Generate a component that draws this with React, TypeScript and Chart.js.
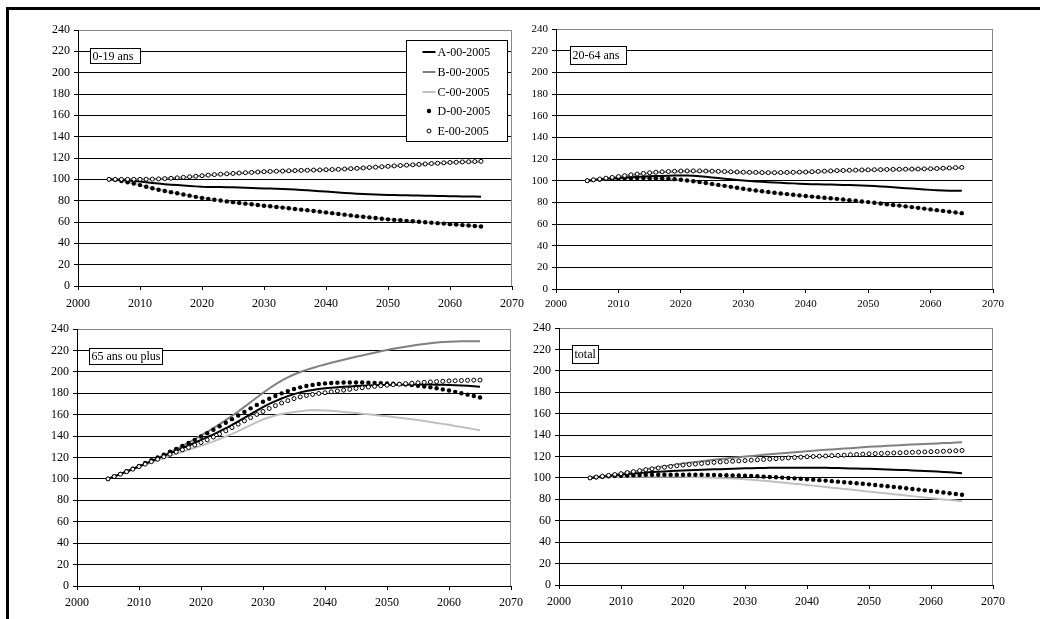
import React, { useEffect, useRef } from "react";
import { Chart, registerables } from "chart.js";

Chart.register(...registerables);

// ---------- data ----------
const YEARS = [
  2005, 2006, 2007, 2008, 2009, 2010, 2011, 2012, 2013, 2014, 2015, 2016, 2017, 2018, 2019, 2020,
  2021, 2022, 2023, 2024, 2025, 2026, 2027, 2028, 2029, 2030, 2031, 2032, 2033, 2034, 2035, 2036,
  2037, 2038, 2039, 2040, 2041, 2042, 2043, 2044, 2045, 2046, 2047, 2048, 2049, 2050, 2051, 2052,
  2053, 2054, 2055, 2056, 2057, 2058, 2059, 2060, 2061, 2062, 2063, 2064, 2065,
];
const X_TICKS = [2000, 2010, 2020, 2030, 2040, 2050, 2060, 2070];
const Y_TICKS = [0, 20, 40, 60, 80, 100, 120, 140, 160, 180, 200, 220, 240];
const SERIES_NAMES = ["A-00-2005", "B-00-2005", "C-00-2005", "D-00-2005", "E-00-2005"];
const PANEL_TITLES = ["0-19 ans", "20-64 ans", "65 ans ou plus", "total"];

// 0-19 ans
const A_YOUNG = [
  100, 99.7, 99.3, 98.9, 98.5, 98.0, 97.3, 96.6, 96.0, 95.5, 95.0, 94.6, 94.2, 93.8, 93.4, 93.0,
  92.9, 92.8, 92.7, 92.6, 92.5, 92.3, 92.1, 91.9, 91.7, 91.5, 91.3, 91.1, 90.9, 90.7, 90.5, 90.1,
  89.7, 89.3, 88.9, 88.5, 88.1, 87.7, 87.3, 86.9, 86.5, 86.2, 86.0, 85.8, 85.5, 85.3, 85.2, 85.1,
  85.0, 84.9, 84.8, 84.7, 84.6, 84.4, 84.3, 84.2, 84.1, 84.0, 83.9, 83.8, 83.7,
];
const D_YOUNG = [
  100, 99.5, 98.5, 97.3, 96.0, 94.6, 93.0, 91.6, 90.3, 89.1, 88.0, 86.9, 85.8, 84.7, 83.6, 82.6,
  81.7, 80.9, 80.1, 79.3, 78.6, 77.9, 77.2, 76.6, 75.9, 75.3, 74.7, 74.1, 73.5, 72.9, 72.2, 71.6,
  71.0, 70.3, 69.7, 69.0, 68.3, 67.6, 66.9, 66.2, 65.5, 64.9, 64.3, 63.7, 63.1, 62.5, 62.0, 61.6,
  61.1, 60.7, 60.3, 59.8, 59.4, 58.9, 58.5, 58.0, 57.6, 57.1, 56.7, 56.2, 55.8,
];
const E_YOUNG = [
  100, 100, 100, 100, 100, 100, 100.1, 100.2, 100.4, 100.7, 101.0, 101.4, 101.9, 102.4, 102.9, 103.4,
  103.9, 104.4, 104.8, 105.2, 105.5, 105.9, 106.2, 106.5, 106.9, 107.2, 107.4, 107.6, 107.8, 108.0, 108.2, 108.4,
  108.5, 108.7, 108.8, 109.0, 109.2, 109.4, 109.7, 110.0, 110.3, 110.7, 111.1, 111.4, 111.8, 112.2, 112.6, 112.9,
  113.3, 113.6, 114.0, 114.4, 114.8, 115.1, 115.5, 115.8, 116.0, 116.3, 116.5, 116.7, 116.9,
];
const B_YOUNG = [
  100, 100, 100, 100, 100, 100, 100.1, 100.2, 100.4, 100.7, 101.0, 101.4, 101.8, 102.3, 102.8, 103.3,
  103.8, 104.3, 104.7, 105.1, 105.4, 105.8, 106.1, 106.4, 106.8, 107.1, 107.3, 107.5, 107.7, 107.9, 108.1, 108.3,
  108.4, 108.6, 108.7, 108.9, 109.1, 109.3, 109.6, 109.9, 110.2, 110.6, 111.0, 111.3, 111.7, 112.1, 112.5, 112.8,
  113.2, 113.5, 113.9, 114.3, 114.7, 115.0, 115.4, 115.7, 115.9, 116.2, 116.4, 116.6, 116.8,
];
const C_YOUNG = [
  100, 99.5, 98.5, 97.3, 96.0, 94.6, 93.0, 91.6, 90.3, 89.1, 88.0, 86.9, 85.8, 84.7, 83.6, 82.6,
  81.7, 80.9, 80.1, 79.3, 78.6, 77.9, 77.2, 76.6, 75.9, 75.3, 74.7, 74.1, 73.5, 72.9, 72.2, 71.6,
  71.0, 70.3, 69.7, 69.0, 68.3, 67.6, 66.9, 66.2, 65.5, 64.9, 64.3, 63.7, 63.1, 62.5, 62.0, 61.6,
  61.1, 60.7, 60.3, 59.8, 59.4, 58.9, 58.5, 58.0, 57.6, 57.1, 56.7, 56.2, 55.8,
];

// 20-64 ans
const A_ADULT = [
  100, 100.6, 101.2, 101.7, 102.1, 102.5, 102.9, 103.2, 103.5, 103.8, 104.0, 104.2, 104.4, 104.6, 104.7, 104.8,
  104.7, 104.5, 104.1, 103.6, 103.0, 102.4, 101.8, 101.2, 100.7, 100.2, 99.7, 99.3, 98.9, 98.6, 98.3, 98.0,
  97.7, 97.5, 97.2, 97.0, 96.8, 96.7, 96.5, 96.4, 96.2, 96.1, 95.9, 95.8, 95.6, 95.4, 95.1, 94.7,
  94.3, 93.9, 93.5, 93.1, 92.7, 92.3, 91.9, 91.5, 91.2, 91.0, 90.8, 90.7, 90.7,
];
const D_ADULT = [
  100, 100.6, 101.1, 101.5, 101.8, 102.0, 102.2, 102.3, 102.4, 102.4, 102.3, 102.2, 102.0, 101.8, 101.4, 100.8,
  100.2, 99.5, 98.8, 97.9, 97.0, 96.1, 95.2, 94.3, 93.4, 92.5, 91.7, 90.9, 90.2, 89.5, 88.8, 88.2,
  87.6, 87.0, 86.4, 85.8, 85.3, 84.8, 84.3, 83.8, 83.2, 82.6, 82.0, 81.4, 80.8, 80.2, 79.6, 78.9,
  78.3, 77.6, 77.0, 76.3, 75.6, 74.9, 74.2, 73.5, 72.8, 72.1, 71.4, 70.7, 70.0,
];
const E_ADULT = [
  100, 100.8, 101.5, 102.3, 103.0, 103.8, 104.6, 105.4, 106.1, 106.7, 107.3, 107.8, 108.2, 108.5, 108.7, 108.9,
  109.0, 109.0, 109.0, 108.9, 108.8, 108.6, 108.4, 108.2, 108.0, 107.8, 107.7, 107.6, 107.5, 107.4, 107.4, 107.5,
  107.6, 107.7, 107.9, 108.0, 108.3, 108.5, 108.8, 109.0, 109.3, 109.4, 109.6, 109.7, 109.9, 110.0, 110.1, 110.2,
  110.3, 110.4, 110.5, 110.6, 110.7, 110.8, 110.9, 111.0, 111.2, 111.5, 111.7, 112.0, 112.2,
];
const B_ADULT = [
  100, 100.7, 101.4, 102.1, 102.8, 103.6, 104.4, 105.2, 105.9, 106.5, 107.1, 107.6, 108.0, 108.3, 108.5, 108.7,
  108.8, 108.8, 108.8, 108.7, 108.6, 108.4, 108.2, 108.0, 107.8, 107.6, 107.5, 107.4, 107.3, 107.2, 107.2, 107.3,
  107.4, 107.5, 107.7, 107.8, 108.1, 108.3, 108.6, 108.8, 109.1, 109.2, 109.4, 109.5, 109.7, 109.8, 109.9, 110.0,
  110.1, 110.2, 110.3, 110.4, 110.5, 110.6, 110.7, 110.8, 111.0, 111.3, 111.5, 111.8, 112.0,
];
const C_ADULT = [
  100, 100.5, 101.0, 101.4, 101.7, 101.9, 102.1, 102.2, 102.3, 102.3, 102.2, 102.1, 101.9, 101.6, 101.2, 100.6,
  100.0, 99.3, 98.6, 97.7, 96.8, 95.9, 95.0, 94.1, 93.2, 92.3, 91.5, 90.7, 90.0, 89.3, 88.6, 88.0,
  87.4, 86.8, 86.2, 85.6, 85.1, 84.6, 84.1, 83.6, 83.0, 82.4, 81.8, 81.2, 80.6, 80.0, 79.4, 78.7,
  78.1, 77.4, 76.8, 76.1, 75.4, 74.7, 74.0, 73.3, 72.6, 71.9, 71.2, 70.5, 69.8,
];

// 65 ans ou plus
const A_OLD = [
  100, 102.3, 104.6, 106.9, 109.3, 111.7, 114.1, 116.5, 118.9, 121.4, 123.9, 126.3, 128.7, 131.2, 133.8, 136.4,
  139.0, 141.6, 144.4, 147.3, 150.4, 153.7, 157.1, 160.5, 163.8, 167.0, 170.0, 172.7, 175.1, 177.3, 179.2, 180.8,
  182.1, 183.1, 183.9, 184.6, 185.1, 185.6, 186.0, 186.4, 186.7, 187.0, 187.2, 187.4, 187.6, 187.8, 187.9, 188.0,
  188.1, 188.2, 188.2, 188.2, 188.1, 188.0, 187.9, 187.8, 187.5, 187.2, 186.9, 186.5, 186.0,
];
const B_OLD = [
  100, 102.3, 104.6, 106.9, 109.3, 111.8, 114.3, 116.8, 119.4, 122.1, 124.9, 127.8, 130.8, 133.9, 137.2, 140.6,
  144.0, 147.5, 151.1, 154.9, 158.8, 163.0, 167.3, 171.6, 176.0, 180.3, 184.4, 188.2, 191.7, 194.8, 197.5, 199.8,
  201.8, 203.6, 205.3, 206.9, 208.4, 209.9, 211.3, 212.7, 214.0, 215.3, 216.6, 217.9, 219.2, 220.4, 221.5, 222.5,
  223.5, 224.4, 225.3, 226.1, 226.8, 227.4, 227.9, 228.2, 228.4, 228.5, 228.5, 228.5, 228.5,
];
const C_OLD = [
  100, 102.2, 104.4, 106.6, 108.8, 111.0, 113.1, 115.2, 117.3, 119.4, 121.5, 123.4, 125.3, 127.2, 129.1, 131.0,
  133.0, 135.1, 137.3, 139.6, 142.0, 144.7, 147.5, 150.3, 153.0, 155.5, 157.6, 159.3, 160.6, 161.6, 162.5, 163.2,
  163.8, 164.3, 164.2, 164.0, 163.6, 163.1, 162.6, 162.1, 161.5, 160.9, 160.3, 159.7, 159.1, 158.5, 157.8, 157.1,
  156.4, 155.7, 155.0, 154.1, 153.2, 152.3, 151.4, 150.5, 149.5, 148.5, 147.5, 146.5, 145.5,
];
const D_OLD = [
  100, 102.3, 104.7, 107.1, 109.6, 112.2, 114.8, 117.4, 120.0, 122.7, 125.4, 128.0, 130.7, 133.5, 136.5, 139.6,
  142.7, 145.9, 149.2, 152.5, 155.8, 159.2, 162.6, 165.9, 169.1, 172.1, 174.9, 177.5, 179.9, 182.0, 183.9, 185.5,
  186.8, 187.8, 188.6, 189.2, 189.6, 189.9, 190.0, 190.1, 190.1, 190.0, 189.9, 189.7, 189.5, 189.2, 188.9, 188.5,
  188.1, 187.6, 187.0, 186.3, 185.5, 184.6, 183.6, 182.5, 181.3, 180.0, 178.7, 177.4, 176.0,
];
const E_OLD = [
  100, 102.2, 104.4, 106.7, 109.1, 111.5, 113.8, 116.1, 118.4, 120.7, 123.0, 125.1, 127.2, 129.3, 131.6, 134.0,
  136.5, 139.1, 141.9, 144.9, 148.0, 151.1, 154.2, 157.2, 160.2, 163.0, 165.8, 168.4, 170.9, 173.1, 175.0, 176.6,
  177.9, 178.9, 179.8, 180.5, 181.3, 182.1, 182.9, 183.7, 184.5, 185.2, 185.8, 186.4, 187.0, 187.5, 188.0, 188.5,
  189.0, 189.4, 189.8, 190.2, 190.6, 190.9, 191.2, 191.5, 191.7, 191.9, 192.1, 192.2, 192.3,
];

// total
const A_TOTAL = [
  100, 100.7, 101.3, 101.9, 102.5, 103.0, 103.6, 104.1, 104.6, 105.1, 105.5, 105.8, 106.1, 106.4, 106.7, 107.0,
  107.2, 107.4, 107.6, 107.8, 108.0, 108.2, 108.4, 108.6, 108.8, 109.0, 109.1, 109.2, 109.3, 109.4, 109.5, 109.5,
  109.6, 109.6, 109.6, 109.6, 109.5, 109.5, 109.4, 109.3, 109.2, 109.1, 108.9, 108.8, 108.6, 108.5, 108.3, 108.1,
  107.9, 107.7, 107.5, 107.3, 107.0, 106.8, 106.5, 106.2, 105.9, 105.5, 105.2, 104.8, 104.4,
];
const B_TOTAL = [
  100, 100.8, 101.6, 102.4, 103.2, 104.0, 105.0, 106.0, 107.0, 108.0, 109.0, 109.9, 110.8, 111.7, 112.6, 113.5,
  114.2, 114.9, 115.6, 116.3, 117.0, 117.6, 118.2, 118.8, 119.4, 120.0, 120.5, 121.0, 121.6, 122.1, 122.6, 123.1,
  123.6, 124.0, 124.5, 125.0, 125.4, 125.8, 126.2, 126.6, 127.0, 127.4, 127.8, 128.2, 128.6, 129.0, 129.3, 129.6,
  130.0, 130.3, 130.6, 130.9, 131.2, 131.4, 131.7, 132.0, 132.2, 132.5, 132.7, 133.0, 133.2,
];
const C_TOTAL = [
  100, 100.3, 100.5, 100.7, 100.9, 101.0, 101.1, 101.2, 101.2, 101.2, 101.2, 101.2, 101.2, 101.1, 101.1, 101.0,
  100.9, 100.8, 100.6, 100.4, 100.2, 100.0, 99.7, 99.5, 99.2, 98.8, 98.3, 97.8, 97.3, 96.8, 96.3, 95.7,
  95.1, 94.6, 94.0, 93.4, 92.8, 92.2, 91.5, 90.9, 90.3, 89.7, 89.1, 88.4, 87.8, 87.2, 86.6, 86.0,
  85.4, 84.8, 84.2, 83.6, 83.0, 82.3, 81.7, 81.1, 80.5, 79.9, 79.4, 78.8, 78.2,
];
const D_TOTAL = [
  100, 100.6, 101.1, 101.5, 101.8, 102.0, 102.3, 102.5, 102.7, 102.9, 103.0, 103.0, 103.0, 103.0, 103.0, 103.0,
  103.0, 102.9, 102.9, 102.8, 102.7, 102.6, 102.5, 102.4, 102.2, 102.0, 101.8, 101.5, 101.2, 100.9, 100.6, 100.3,
  99.9, 99.6, 99.2, 98.8, 98.4, 97.9, 97.5, 97.0, 96.5, 96.0, 95.5, 95.0, 94.5, 94.0, 93.4, 92.8,
  92.2, 91.6, 91.0, 90.4, 89.7, 89.1, 88.4, 87.8, 87.1, 86.4, 85.7, 85.0, 84.3,
];
const E_TOTAL = [
  100, 100.8, 101.6, 102.4, 103.2, 104.0, 105.0, 105.9, 106.8, 107.7, 108.5, 109.3, 110.0, 110.7, 111.4, 112.0,
  112.5, 113.0, 113.5, 114.0, 114.5, 114.9, 115.2, 115.6, 115.9, 116.2, 116.6, 116.9, 117.3, 117.6, 118.0, 118.4,
  118.7, 119.1, 119.4, 119.8, 120.0, 120.3, 120.5, 120.8, 121.0, 121.3, 121.6, 121.9, 122.2, 122.5, 122.7, 122.9,
  123.1, 123.3, 123.5, 123.7, 123.9, 124.1, 124.3, 124.5, 124.7, 124.9, 125.1, 125.4, 125.6,
];

const PANEL_SERIES = [
  [A_YOUNG, B_YOUNG, C_YOUNG, D_YOUNG, E_YOUNG],
  [A_ADULT, B_ADULT, C_ADULT, D_ADULT, E_ADULT],
  [A_OLD, B_OLD, C_OLD, D_OLD, E_OLD],
  [A_TOTAL, B_TOTAL, C_TOTAL, D_TOTAL, E_TOTAL],
];

// ---------- layout / style ----------
const FONT = '"Liberation Serif", "Times New Roman", serif';
const LAYOUT = [
  { l: 78, r: 512, t: 30, b: 286, fs: 12, xpad: 7, box: { dx: 12, dy: 18, w: 50, h: 15 }, legend: true },
  { l: 556, r: 993, t: 29, b: 289, fs: 11, xpad: 5, box: { dx: 14, dy: 17, w: 56, h: 18 }, legend: false },
  { l: 77, r: 511, t: 329, b: 586, fs: 12, xpad: 6, box: { dx: 12, dy: 19, w: 73, h: 16 }, legend: false },
  { l: 559, r: 993, t: 328, b: 585, fs: 12, xpad: 6, box: { dx: 13, dy: 17, w: 26, h: 18 }, legend: false },
];
const PAD_L = 60;
const PAD_T = 20;
const PAD_R = 20;
const PAD_B = 28;

const STYLES = [
  { kind: "line", color: "#000000", width: 2, order: 2 },
  { kind: "line", color: "#808080", width: 2, order: 3 },
  { kind: "line", color: "#c0c0c0", width: 2, order: 4 },
  { kind: "dot", color: "#000000", order: 1 },
  { kind: "ring", color: "#000000", order: 0 },
];

function makeDecor(title: string, lay: any) {
  return {
    id: "decor",
    beforeDatasetsDraw(chart: any) {
      const { ctx, chartArea: a } = chart;
      ctx.save();
      ctx.strokeStyle = "#888888";
      ctx.lineWidth = 1;
      const x = Math.round(a.right) - 0.5;
      ctx.beginPath();
      ctx.moveTo(x, a.top);
      ctx.lineTo(x, a.bottom);
      ctx.stroke();
      ctx.restore();
    },
    afterDraw(chart: any) {
      const { ctx, chartArea: a } = chart;
      ctx.save();
      ctx.font = `12px ${FONT}`;
      const bx = Math.round(a.left + lay.box.dx) + 0.5;
      const by = Math.round(a.top + lay.box.dy) + 0.5;
      ctx.fillStyle = "#ffffff";
      ctx.fillRect(bx, by, lay.box.w, lay.box.h);
      ctx.strokeStyle = "#000000";
      ctx.lineWidth = 1;
      ctx.strokeRect(bx, by, lay.box.w, lay.box.h);
      ctx.fillStyle = "#000000";
      ctx.textBaseline = "middle";
      ctx.textAlign = "left";
      ctx.fillText(title, bx + 2, by + lay.box.h / 2 + 0.5);

      if (lay.legend) {
        const w = 101;
        const h = 101;
        const lx = Math.round(a.right - 5 - w) + 0.5;
        const ly = Math.round(a.top + 10) + 0.5;
        ctx.fillStyle = "#ffffff";
        ctx.fillRect(lx, ly, w, h);
        ctx.strokeStyle = "#000000";
        ctx.strokeRect(lx, ly, w, h);
        SERIES_NAMES.forEach((name, i) => {
          const cy = Math.round(ly + 11.5 + i * 19.8);
          const st = STYLES[i];
          const cx = lx + 22.5;
          if (st.kind === "line") {
            ctx.strokeStyle = st.color;
            ctx.lineWidth = 2;
            ctx.beginPath();
            ctx.moveTo(lx + 16, cy);
            ctx.lineTo(lx + 29, cy);
            ctx.stroke();
          } else if (st.kind === "dot") {
            ctx.fillStyle = "#000000";
            ctx.beginPath();
            ctx.arc(cx, cy, 2.2, 0, Math.PI * 2);
            ctx.fill();
          } else {
            ctx.fillStyle = "#ffffff";
            ctx.strokeStyle = "#000000";
            ctx.lineWidth = 1;
            ctx.beginPath();
            ctx.arc(cx, cy, 2, 0, Math.PI * 2);
            ctx.fill();
            ctx.stroke();
          }
          ctx.fillStyle = "#000000";
          ctx.textBaseline = "middle";
          ctx.fillText(name, lx + 31, cy + 0.5);
        });
      }
      ctx.restore();
    },
  };
}

function Panel({ index }: { index: number }) {
  const ref = useRef<HTMLCanvasElement | null>(null);
  const lay = LAYOUT[index];
  const width = lay.r - lay.l + PAD_L + PAD_R;
  const height = lay.b - lay.t + PAD_T + PAD_B;

  useEffect(() => {
    if (!ref.current) return;
    const series = PANEL_SERIES[index];
    const datasets = series.map((vals, i) => {
      const st = STYLES[i];
      const data = YEARS.map((x, k) => ({ x, y: vals[k] }));
      if (st.kind === "line") {
        return {
          label: SERIES_NAMES[i],
          data,
          borderColor: st.color,
          borderWidth: st.width,
          pointRadius: 0,
          tension: 0,
          fill: false,
          order: st.order,
        };
      }
      if (st.kind === "dot") {
        return {
          label: SERIES_NAMES[i],
          data,
          showLine: false,
          pointRadius: 2.2,
          pointBackgroundColor: "#000000",
          pointBorderColor: "#000000",
          pointBorderWidth: 0,
          order: st.order,
        };
      }
      return {
        label: SERIES_NAMES[i],
        data,
        showLine: false,
        pointRadius: 2,
        pointBackgroundColor: "#ffffff",
        pointBorderColor: "#000000",
        pointBorderWidth: 1,
        order: st.order,
      };
    });

    const chart = new Chart(ref.current, {
      type: "line",
      data: { datasets } as any,
      options: {
        animation: false,
        responsive: false,
        devicePixelRatio: 1,
        layout: { padding: { left: 0, top: PAD_T, right: PAD_R, bottom: 0 } },
        plugins: { legend: { display: false }, tooltip: { enabled: false } },
        scales: {
          x: {
            type: "linear",
            min: 2000,
            max: 2070,
            afterBuildTicks: (s: any) => {
              s.ticks = X_TICKS.map((v) => ({ value: v }));
            },
            afterFit: (s: any) => {
              s.height = PAD_B;
            },
            ticks: {
              autoSkip: false,
              maxRotation: 0,
              padding: lay.xpad,
              color: "#000000",
              font: { family: FONT, size: lay.fs },
              callback: (v: any) => String(v),
            },
            grid: { drawOnChartArea: false, drawTicks: true, tickLength: 4, tickColor: "#000000" },
            border: { color: "#000000", width: 1 },
          },
          y: {
            type: "linear",
            min: 0,
            max: 240,
            afterBuildTicks: (s: any) => {
              s.ticks = Y_TICKS.map((v) => ({ value: v }));
            },
            afterFit: (s: any) => {
              s.width = PAD_L;
            },
            ticks: {
              padding: 4,
              color: "#000000",
              font: { family: FONT, size: lay.fs },
              callback: (v: any) => String(v),
            },
            grid: {
              color: (c: any) => (c.tick && c.tick.value === 240 ? "#888888" : "#000000"),
              tickColor: "#000000",
              tickLength: 4,
              lineWidth: 1,
            },
            border: { color: "#000000", width: 1 },
          },
        },
      } as any,
      plugins: [makeDecor(PANEL_TITLES[index], lay)],
    });
    return () => chart.destroy();
  }, [index]);

  return (
    <canvas
      ref={ref}
      width={width}
      height={height}
      style={{
        position: "absolute",
        left: lay.l - PAD_L,
        top: lay.t - PAD_T,
        width,
        height,
      }}
    />
  );
}

export default function App() {
  return (
    <div
      style={{
        position: "absolute",
        left: 0,
        top: 0,
        width: 1040,
        height: 619,
        overflow: "hidden",
        background: "#ffffff",
      }}
    >
      <div
        style={{
          position: "absolute",
          left: 6,
          top: 7,
          width: 1100,
          height: 700,
          borderTop: "3px solid #000",
          borderLeft: "3px solid #000",
        }}
      />
      {[0, 1, 2, 3].map((i) => (
        <Panel key={i} index={i} />
      ))}
    </div>
  );
}
